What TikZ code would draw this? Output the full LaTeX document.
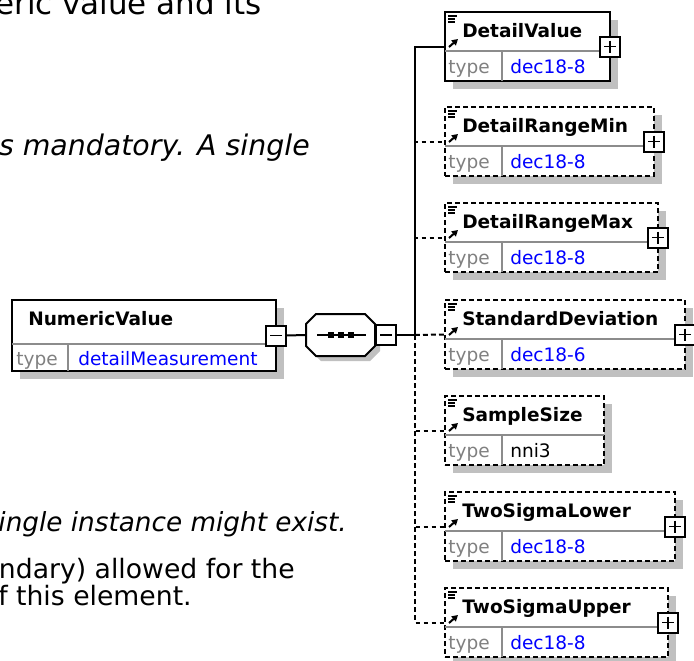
\documentclass[tikz,border=0pt]{standalone}
\usepackage{fontspec}
\setmainfont{DejaVu Sans}
\usetikzlibrary{calc,shadows,arrows.meta}
\definecolor{shadowgray}{RGB}{192,192,192}
\definecolor{typegray}{RGB}{128,128,128}
\definecolor{valblue}{RGB}{0,0,255}
\definecolor{divgray}{RGB}{140,140,140}
\tikzset{
  elbox/.style={draw=black, line width=1.5pt, fill=white, anchor=north west,
    minimum height={69*0.75pt}, inner sep=0pt, outer sep=0pt,
    drop shadow={shadow xshift=6pt, shadow yshift=-6pt, fill=shadowgray, opacity=1}},
  optbox/.style={elbox, dash pattern=on 3.6pt off 2.4pt},
  divline/.style={draw=divgray, line width=0.8pt},
  titletext/.style={font=\bfseries\fontsize{13.9}{16}\selectfont, inner sep=0pt, anchor=base west},
  typetext/.style={font=\fontsize{13.9}{16}\selectfont, text=typegray, inner sep=0pt, anchor=base west},
  valtext/.style={font=\fontsize{13.9}{16}\selectfont, inner sep=0pt, anchor=base west},
  bodytext/.style={inner sep=0pt, anchor=base west},
  pmbtn/.style={draw=black, fill=white, line width=1.5pt, minimum size=15pt, inner sep=0pt, outer sep=0pt},
  pmline/.style={line width=1.4pt},
  conn/.style={line width=1.5pt},
  optconn/.style={conn, dash pattern=on 3.6pt off 2.4pt},
  sqdot/.style={fill=black, minimum size=4.5pt, inner sep=0pt},
}
\newcommand\elinner[5]{% node, title, value, value colour, value x offset
  \draw[divline] ($(#1.north west)+(0,39)$) -- ($(#1.north east)+(0,39)$);
  \draw[divline] ($(#1.north west)+(57,39)$) -- ($(#1.south west)+(57,0)$);
  \node[titletext] (#1-title) at ($(#1.north west)+(17,25)$) {#2};
  \node[typetext] (#1-type) at ($(#1.north west)+(3,61)$) {type};
  \node[valtext, text=#4] (#1-val) at ($(#1.north west)+(#5,61)$) {#3};
  \draw[line width=1pt] ($(#1.north west)+(3,4)$) -- ++(9,0);
  \draw[line width=1pt] ($(#1.north west)+(3,7)$) -- ++(7,0);
  \draw[line width=1pt] ($(#1.north west)+(3,10)$) -- ++(7,0);
  \draw[line width=1.5pt, -{Triangle[length=4.5pt,width=5pt]}] ($(#1.north west)+(4,35)$) -- ++(9,-8);
}
\newcommand\plusbtn[2]{%
  \node[pmbtn] (#1) at (#2) {};
  \draw[pmline] ($(#1.center)+(-6,0)$) -- ($(#1.center)+(6,0)$);
  \draw[pmline] ($(#1.center)+(0,-6)$) -- ($(#1.center)+(0,6)$);
}
\newcommand\minusbtn[2]{%
  \node[pmbtn] (#1) at (#2) {};
  \draw[pmline] ($(#1.center)+(-6,0)$) -- ($(#1.center)+(6,0)$);
}
\begin{document}
\begin{tikzpicture}[x=0.75pt, y=-0.75pt]
\useasboundingbox (0,0) rectangle (694,661);
% body text (cut at the left edge as in the reference)
\node[bodytext, font=\fontsize{23.2}{28}\selectfont, anchor=base east] (t1) at (262,14) {eric value and its};
\node[bodytext, font=\fontsize{21.3}{26}\selectfont\itshape, anchor=base east] (t2) at (310,155) {s mandatory. A single};
\node[bodytext, font=\fontsize{19.7}{24}\selectfont\itshape, anchor=base east] (t3) at (347,531) {ingle instance might exist.};
\node[bodytext, font=\fontsize{20}{24}\selectfont, anchor=base east] (t4) at (295,578) {ndary) allowed for the};
\node[bodytext, font=\fontsize{20}{24}\selectfont, anchor=base east] (t5) at (192,605) {f this element.};
% root element
\node[elbox, minimum width={264*0.75pt}, minimum height={71*0.75pt}] (nv) at (12,300) {};
\draw[divline] ($(nv.north west)+(0,44)$) -- ($(nv.north east)+(0,44)$);
\draw[divline] ($(nv.north west)+(56,44)$) -- ($(nv.south west)+(56,0)$);
\node[titletext] (nv-title) at ($(nv.north west)+(16,25)$) {NumericValue};
\node[typetext] (nv-type) at ($(nv.north west)+(4,65)$) {type};
\node[valtext, text=valblue] (nv-val) at ($(nv.north west)+(66,65)$) {detailMeasurement};
\minusbtn{nvm}{nv.east}
% sequence compositor
\node[minimum width={69*0.75pt}, minimum height={42*0.75pt}, inner sep=0pt, outer sep=0pt] (seq) at (340.5,335) {};
\fill[shadowgray] ($(seq.north west)+(15,5)$) -- ($(seq.north east)+(-5,5)$) -- ($(seq.north east)+(5,15)$) -- ($(seq.south east)+(5,-5)$) -- ($(seq.south east)+(-5,5)$) -- ($(seq.south west)+(15,5)$) -- ($(seq.south west)+(5,-5)$) -- ($(seq.north west)+(5,15)$) -- cycle;
\draw[conn, fill=white] ($(seq.north west)+(10,0)$) -- ($(seq.north east)+(-10,0)$) -- ($(seq.north east)+(0,10)$) -- ($(seq.south east)+(0,-10)$) -- ($(seq.south east)+(-10,0)$) -- ($(seq.south west)+(10,0)$) -- ($(seq.south west)+(0,-10)$) -- ($(seq.north west)+(0,10)$) -- cycle;
\draw[conn] ($(seq.west)+(11,0)$) -- ($(seq.east)+(-9,0)$);
\node[sqdot] (sq1) at ($(seq.center)+(-9.5,0)$) {};
\node[sqdot] (sq2) at ($(seq.center)+(0.5,0)$) {};
\node[sqdot] (sq3) at ($(seq.center)+(10.5,0)$) {};
\minusbtn{seqm}{$(seq.east)+(11,0)$}
\draw[conn] (nvm.east) -- (seq.west);
% children
\node[elbox, minimum width={165*0.75pt}] (dv) at (445,12) {};
\elinner{dv}{DetailValue}{dec18-8}{valblue}{65}
\plusbtn{dvp}{dv.east}
\node[optbox, minimum width={209*0.75pt}] (dmin) at (445,107) {};
\elinner{dmin}{DetailRangeMin}{dec18-8}{valblue}{65}
\plusbtn{dminp}{dmin.east}
\node[optbox, minimum width={213*0.75pt}] (dmax) at (445,203) {};
\elinner{dmax}{DetailRangeMax}{dec18-8}{valblue}{65}
\plusbtn{dmaxp}{dmax.east}
\node[optbox, minimum width={240*0.75pt}] (sd) at (445,300) {};
\elinner{sd}{StandardDeviation}{dec18-6}{valblue}{65}
\plusbtn{sdp}{sd.east}
\node[optbox, minimum width={159*0.75pt}] (ss) at (445,396) {};
\elinner{ss}{SampleSize}{nni3}{black}{65}
\node[optbox, minimum width={230*0.75pt}] (tsl) at (445,492) {};
\elinner{tsl}{TwoSigmaLower}{dec18-8}{valblue}{65}
\plusbtn{tslp}{tsl.east}
\node[optbox, minimum width={223*0.75pt}] (tsu) at (445,588) {};
\elinner{tsu}{TwoSigmaUpper}{dec18-8}{valblue}{65}
\plusbtn{tsup}{tsu.east}
% connectors
\coordinate (tr) at (415,335);
\draw[optconn] (tr) |- (dmin.west);
\draw[optconn] (tr) |- (dmax.west);
\draw[optconn] (tr) -- (sd.west);
\draw[optconn] (tr) |- (ss.west);
\draw[optconn] (tr) |- (tsl.west);
\draw[optconn] (tr) |- (tsu.west);
\draw[conn] (seqm.east) -- (tr) |- (dv.west);
\end{tikzpicture}
\end{document}
